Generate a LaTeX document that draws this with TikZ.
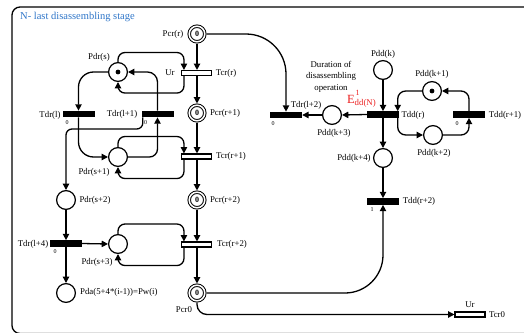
\documentclass[tikz,border=0pt]{standalone}
\usepackage{fontspec}
\setmainfont{Liberation Serif}
\usetikzlibrary{arrows.meta,calc}
\definecolor{titleblue}{RGB}{46,117,200}
\definecolor{ered}{RGB}{235,30,30}
\begin{document}
\begin{tikzpicture}[x=1pt,y=-1pt,
  place/.style={circle,draw,line width=1.2pt,minimum size=18.8pt,inner sep=0pt},
  dplace/.style={circle,draw,line width=1pt,double,double distance=1.5pt,minimum size=15.6pt,inner sep=0pt,outer sep=1.75pt,font=\fontsize{8}{8}\selectfont\bfseries},
  btrans/.style={rectangle,fill=black,minimum width=32pt,minimum height=6.3pt,inner sep=0pt},
  wtrans/.style={rectangle,draw,fill=white,line width=1.1pt,minimum width=30pt,minimum height=5pt,inner sep=0pt},
  lbl/.style={font=\fontsize{8.8}{10}\selectfont,inner sep=0pt},
  tinylbl/.style={font=\fontsize{6}{6}\selectfont,inner sep=0pt},
  arc/.style={-{Triangle[length=6.3pt,width=6.3pt]},line width=1.3pt},
  tok/.style={circle,fill=black,inner sep=0pt,minimum size=4.8pt}
]
\useasboundingbox (0,0) rectangle (524,332);
% frame
\draw[line width=1.3pt,rounded corners=8pt] (560,7) -| (12,333.5) -- (560,333.5);
\node[font=\fontsize{10.5}{12}\selectfont,text=titleblue,anchor=west,inner sep=0pt] (title) at (20,17) {N- last disassembling stage};

% places and transitions (left part)
\node[dplace] (pcrr) at (197,34) {0};
\node[wtrans] (tcrr) at (196.5,73) {};
\node[place] (pdrs) at (118,72) {};
\node[tok] (pdrstok) at (pdrs) {};
\node[dplace] (pcr1) at (197,113) {0};
\node[btrans] (tdrl) at (78.5,114) {};
\node[btrans] (tdrl1) at (157.5,114) {};
\node[place] (pdrs1) at (118,157) {};
\node[wtrans] (tcr1) at (196.5,156.5) {};
\node[place] (pdrs2) at (66,200) {};
\node[dplace] (pcr2) at (197,200) {0};
\node[btrans] (tdrl4) at (66,243.5) {};
\node[place] (pdrs3) at (118,244) {};
\node[wtrans] (tcr2) at (196.5,244.5) {};
\node[place] (pda) at (66,293) {};
\node[dplace] (pcr0) at (197,293) {0};

% right part
\node[btrans] (tdrl2) at (286,115) {};
\node[place] (pddk3) at (332,115) {};
\node[btrans] (tddr) at (383,114.5) {};
\node[place] (pddk) at (383,70) {};
\node[place] (pddk1) at (432,91) {};
\node[tok] (pddk1tok) at (pddk1) {};
\node[place] (pddk2) at (433,135) {};
\node[btrans] (tddr1) at (469,114.5) {};
\node[place] (pddk4) at (383,158) {};
\node[btrans] (tddr2) at (383,201.5) {};
\node[wtrans] (tcr0) at (470,314.5) {};

% labels
\node[lbl] (lpcrr) at (173,34) {Pcr(r)};
\node[lbl] (lur) at (170,73) {Ur};
\node[lbl] (ltcrr) at (226,73) {Tcr(r)};
\node[lbl] (lpdrs) at (99,57) {Pdr(s)};
\node[lbl] (lpcr1) at (225,113) {Pcr(r+1)};
\node[lbl] (ltdrl) at (50,115) {Tdr(l)};
\node[tinylbl] (ztdrl) at (67,123) {0};
\node[lbl] (ltdrl1) at (122,114) {Tdr(l+1)};
\node[tinylbl] (ztdrl1) at (145.5,123) {0};
\node[lbl] (lpdrs1) at (94,172) {Pdr(s+1)};
\node[lbl] (ltcr1) at (231,156) {Tcr(r+1)};
\node[lbl] (lpdrs2) at (95,200) {Pdr(s+2)};
\node[lbl] (lpcr2) at (225,200) {Pcr(r+2)};
\node[lbl] (ltdrl4) at (33,244) {Tdr(l+4)};
\node[tinylbl] (ztdrl4) at (55,252) {0};
\node[lbl] (lpdrs3) at (97,262) {Pdr(s+3)};
\node[lbl] (ltcr2) at (232,244) {Tcr(r+2)};
\node[lbl,anchor=west] (lpda) at (80,292) {Pda(5+4*(i-1))=Pw(i)};
\node[lbl] (lpcr0) at (184,310) {Pcr0};

\node[lbl] (ltdrl2) at (306,105) {Tdr(l+2)};
\node[tinylbl] (ztdrl2) at (273,124) {0};
\node[lbl] (lpddk3) at (334,133) {Pdd(k+3)};
\node[lbl,align=center,font=\fontsize{8.8}{11.5}\selectfont] (ldur) at (331,76.5) {Duration of\\disassembling\\operation};
\node[text=ered,font=\fontsize{12.5}{14}\selectfont,inner sep=0pt] (le) at (351,99) {E};
\node[text=ered,font=\fontsize{8}{9}\selectfont,inner sep=0pt] (le1) at (357.5,92.5) {1};
\node[text=ered,lbl,anchor=west] (ledd) at (354.5,103.5) {dd(N)};
\node[lbl] (lpddk) at (383,54) {Pdd(k)};
\node[lbl] (ltddr) at (413,115) {Tdd(r)};
\node[lbl] (lpddk1) at (432,74) {Pdd(k+1)};
\node[lbl] (ltddr1) at (505,115) {Tdd(r+1)};
\node[tinylbl] (ztddr1) at (457,124) {0};
\node[lbl] (lpddk2) at (434,153) {Pdd(k+2)};
\node[lbl] (lpddk4) at (354,158) {Pdd(k+4)};
\node[lbl] (ltddr2) at (419,201.5) {Tdd(r+2)};
\node[tinylbl] (otddr2) at (372,210) {1};
\node[lbl] (lur0) at (470,305) {Ur};
\node[lbl] (ltcr0) at (497,315) {Tcr0};

% main vertical chain
\draw[arc] (pcrr.south) -- (pcrr.south |- tcrr.north);
\draw[arc] (pcrr.south |- tcrr.south) -- (pcr1.north);
\draw[arc] (pcr1.south) -- (pcr1.south |- tcr1.north);
\draw[arc] (pcr1.south |- tcr1.south) -- (pcr2.north);
\draw[arc] (pcr2.south) -- (pcr2.south |- tcr2.north);
\draw[arc] (pcr2.south |- tcr2.south) -- (pcr0.north);

% loops with Ur-transitions
\draw[arc,rounded corners=7pt] (pdrs.north) -- ++(0,-9.5) -| ([xshift=3pt]tcrr.north west);
\draw[arc,rounded corners=7pt] ([xshift=3pt]tcrr.south west) -- ++(0,17) -| (pdrs.south);
\draw[arc,rounded corners=7pt] (pdrs1.north) -- ++(0,-10.5) -| ([xshift=3pt]tcr1.north west);
\draw[arc,rounded corners=7pt] ([xshift=3pt]tcr1.south west) -- ++(0,19) -| (pdrs1.south);
\draw[arc,rounded corners=7pt] (pdrs3.north) -- ++(0,-10) -| ([xshift=3pt]tcr2.north west);
\draw[arc,rounded corners=7pt] ([xshift=3pt]tcr2.south west) -- ++(0,18) -| (pdrs3.south);

% disassembling arcs
\draw[arc,rounded corners=15pt] (pdrs.west) -| (tdrl.north);
\draw[arc,rounded corners=10pt] (tdrl1.north) |- (pdrs.east);
\draw[arc,rounded corners=15pt] (tdrl.south) |- (pdrs1.west);
\draw[arc,rounded corners=6pt] ([xshift=1.5pt]tdrl1.south west) |- (66,129) -- (pdrs2.north);
\draw[arc,rounded corners=8pt] (pdrs1.east) -| (tdrl1.south);
\draw[arc] (pdrs2.south) -- (pdrs2.south |- tdrl4.north);
\draw[arc] (tdrl4.east) -- (pdrs3.west);
\draw[arc] (tdrl4.south) -- (pda.north);

% right part arcs
\draw[arc,rounded corners=40pt] (pcrr.east) -| (tdrl2.north);
\draw[arc] (pddk3.west) -- (tdrl2.east);
\draw[arc] (tddr.west) -- (pddk3.east);
\draw[arc] (pddk.south) -- (tddr.north);
\draw[arc] (tddr.south) -- (pddk4.north);
\draw[arc] (pddk4.south) -- (tddr2.north);
\draw[arc,rounded corners=8pt] (pddk1.west) -| ([xshift=-1.5pt]tddr.north east);
\draw[arc,rounded corners=8pt] (tddr1.north) |- (pddk1.east);
\draw[arc,rounded corners=8pt] ([xshift=-1.5pt]tddr.south east) |- (pddk2.west);
\draw[arc,rounded corners=8pt] (pddk2.east) -| (tddr1.south);
\draw[arc,rounded corners=38pt] (pcr0.east) -| (tddr2.south);
\draw[arc,rounded corners=10pt] (pcr0.south) |- (tcr0.west);
\end{tikzpicture}
\end{document}
